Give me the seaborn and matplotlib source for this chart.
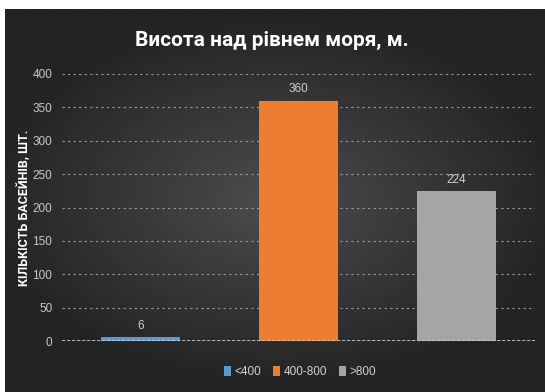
import numpy as np
import pandas as pd
import matplotlib
matplotlib.use("Agg")
import matplotlib.pyplot as plt
import seaborn as sns
from matplotlib.patches import Patch

categories = ["<400", "400-800", ">800"]
values = [6, 360, 224]
colors = ["#5b9bd5", "#ed7d31", "#a5a5a5"]
yticks = [0, 50, 100, 150, 200, 250, 300, 350, 400]
title = "Висота над рівнем моря, м."
ylabel = "КІЛЬКІСТЬ БАСЕЙНІВ, ШТ."

df = pd.DataFrame({"cat": categories, "val": values})

sns.set_theme(style="dark")
plt.rcParams["font.family"] = ["Roboto", "DejaVu Sans"]
small = ["Liberation Sans", "DejaVu Sans"]

W, H = 545, 392
fig = plt.figure(figsize=(W / 100, H / 100), dpi=100, facecolor="white")

# dark radial gradient background
bg = fig.add_axes([5 / W, 0, 540 / W, 383 / H])
yy, xx = np.mgrid[-1:1:300j, -1:1:400j]
r = np.sqrt((xx / 1.0) ** 2 + (yy / 0.9) ** 2)
img = np.clip(0.30 - 0.15 * r, 0.14, 0.31)
bg.imshow(img, cmap="gray", vmin=0, vmax=1, aspect="auto", extent=[0, 1, 0, 1])
bg.axis("off")

ax = fig.add_axes([62 / W, 51 / H, 473 / W, 267 / H])
ax.patch.set_alpha(0)
sns.barplot(data=df, x="cat", y="val", hue="cat", palette=colors, dodge=False,
            width=0.5, legend=False, ax=ax, saturation=1, zorder=3,
            edgecolor="none", linewidth=0)
ax.set_xlim(-0.5, 2.5)
ax.set_ylim(0, 400)
ax.set_yticks(yticks)
ax.set_yticklabels([str(t) for t in yticks], color="#c8c8c8", fontsize=8.5, family=small)
ax.set_xticks([])
ax.set_xlabel("")
ax.set_ylabel(ylabel, color="white", fontsize=9, fontweight="bold", labelpad=1,
              family=["Roboto", "DejaVu Sans"])
ax.tick_params(axis="y", length=0, pad=7)
ax.grid(axis="y", color="#9a9a9a", linestyle=(0, (2, 3)), linewidth=0.8, zorder=0)
ax.grid(axis="x", visible=False)
for s in ax.spines.values():
    s.set_visible(False)
ax.axhline(0, color="#d0d0d0", linestyle=(0, (2, 1)), linewidth=1.2, zorder=4)

for i, v in enumerate(values):
    ax.text(i, v + 8, str(v), ha="center", va="bottom", color="#d0d0d0", fontsize=8.5,
            family=small)

fig.text(272 / W, 1 - 40 / H, title, ha="center", va="center", color="white",
         fontsize=15, fontweight="bold", family=["Roboto", "DejaVu Sans"])

handles = [Patch(facecolor=c, edgecolor="none") for c in colors]
leg = fig.legend(handles, categories, loc="center", bbox_to_anchor=(300 / W, 1 - 372 / H),
                 ncol=3, frameon=False, handlelength=0.6, handleheight=0.9,
                 handletextpad=0.3, columnspacing=1.0,
                 prop={"family": small, "size": 8.5})
for t in leg.get_texts():
    t.set_color("#d0d0d0")

fig.savefig("out.png", dpi=100, facecolor="white")
